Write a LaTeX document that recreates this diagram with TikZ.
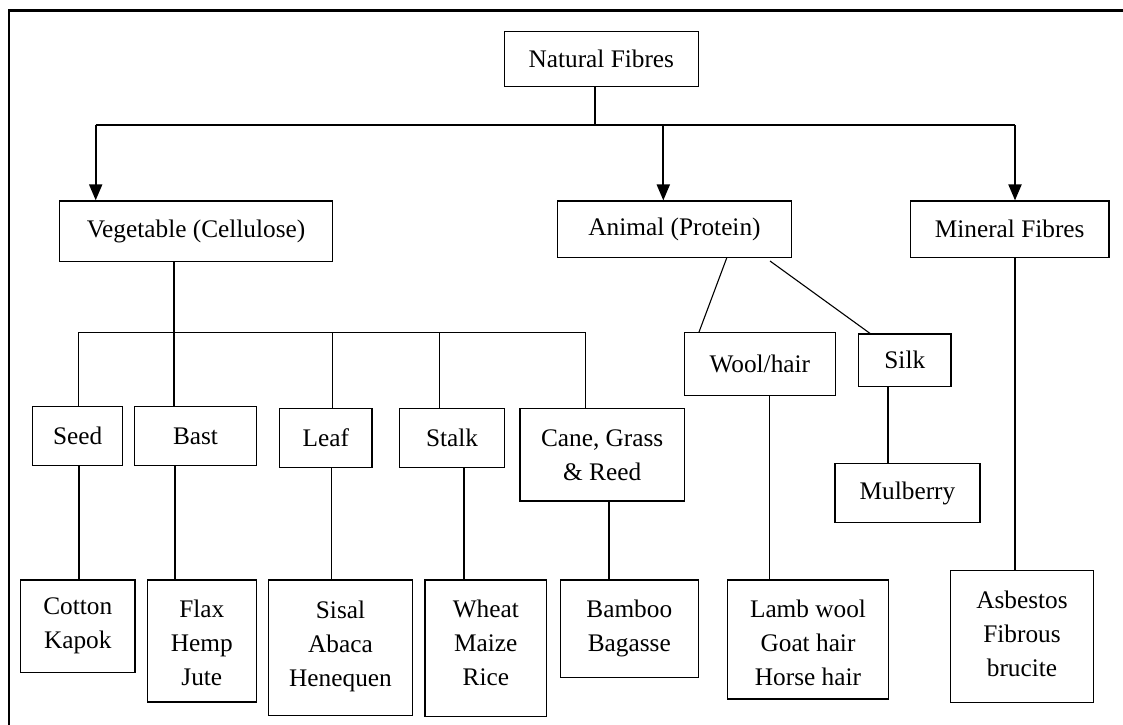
\documentclass[tikz,border=0pt]{standalone}
\usepackage{fontspec}
\setmainfont{Liberation Serif}
\usetikzlibrary{arrows.meta}
\newcommand{\dn}[1]{\rule[-#1pt]{0pt}{0pt}}
\newcommand{\up}[1]{\rule{0pt}{#1pt}}
\begin{document}
\begin{tikzpicture}[x=1pt,y=-1pt,
  box/.style={draw, line width=1.3pt, inner sep=0pt, align=center,
    font=\fontsize{25.3}{34}\selectfont, text=black},
  conn/.style={line width=1.1pt},
  arr/.style={line width=2pt, -{Triangle[width=13pt,length=16pt]}},
  frame/.style={line width=2.2pt}]
\useasboundingbox (0,0) rectangle (1123,724);
\clip (0,0) rectangle (1123,724);
% outer frame
\coordinate (fbl) at (9,730);
\coordinate (ftl) at (9,10.5);
\coordinate (ftr) at (1130,10.5);
\draw[frame] (fbl) -- (ftl) -- (ftr);
% top level
\node[box, minimum width=194pt, minimum height=55pt] (nat) at (601.3,58.8) {Natural Fibres};
\node[box, minimum width=273.4pt, minimum height=60.7pt] (veg) at (196,231.3) {Vegetable (Cellulose)};
\node[box, minimum width=234.4pt, minimum height=56.3pt] (ani) at (674.5,229.2) {Animal (Protein)};
\node[box, minimum width=198.7pt, minimum height=56.3pt] (min) at (1009.7,229.2) {Mineral Fibres};
% vegetable classes
\node[box, minimum width=90pt, minimum height=59pt] (seed) at (77.7,436.2) {Seed};
\node[box, minimum width=121.6pt, minimum height=59pt] (bast) at (195.5,436.2) {Bast};
\node[box, minimum width=92.3pt, minimum height=58.6pt] (leaf) at (325.8,438) {Leaf};
\node[box, minimum width=105.4pt, minimum height=58.6pt] (stalk) at (452,438) {Stalk};
\node[box, minimum width=164.3pt, minimum height=92.3pt] (cane) at (602.2,454.8) {Cane, Grass\\\& Reed};
% animal classes
\node[box, minimum width=151pt, minimum height=63pt] (wool) at (759.8,364.2) {Wool/hair};
\node[box, minimum width=92.3pt, minimum height=52.3pt] (silk) at (904.8,360.2) {Silk};
\node[box, minimum width=145pt, minimum height=58.6pt] (mul) at (907.5,493) {Mulberry};
% leaves
\node[box, minimum width=114.3pt, minimum height=92.7pt] (cot) at (77.8,626.3) {Cotton\\Kapok};
\node[box, minimum width=109pt, minimum height=122pt] (flax) at (201.8,641) {\up{21}Flax\\Hemp\\Jute};
\node[box, minimum width=143.6pt, minimum height=135.3pt] (sisal) at (340.5,647.7) {Sisal\\Abaca\\Henequen\dn{8}};
\node[box, minimum width=121.7pt, minimum height=136.7pt] (wheat) at (485.8,648.3) {Wheat\\Maize\\Rice\dn{11}};
\node[box, minimum width=138pt, minimum height=97.7pt] (bamboo) at (629.3,628.8) {Bamboo\\Bagasse\dn{5}};
\node[box, minimum width=160.6pt, minimum height=119pt] (lamb) at (808,639.5) {\up{25}Lamb wool\\Goat hair\\Horse hair};
\node[box, minimum width=142.6pt, minimum height=132pt] (asb) at (1022,636.3) {Asbestos\\Fibrous\\brucite\dn{6}};
% junctions
\coordinate (j0) at (595,125);
\coordinate (j1) at (174,332.3);
% natural -> three groups
\draw[conn] (595,0 |- nat.south) -- (j0);
\draw[conn] (95.7,125) -- (1015,125);
\draw[arr] (95.7,125) -- (95.7,0 |- veg.north);
\draw[arr] (663.3,125) -- (663.3,0 |- ani.north);
\draw[arr] (1015,125) -- (1015,0 |- min.north);
% vegetable tree
\draw[conn] (174,0 |- veg.south) -- (j1);
\draw[conn] (78.3,332.3) -- (585.3,332.3);
\draw[conn] (78.3,332.3) -- (78.3,0 |- seed.north);
\draw[conn] (j1) -- (174,0 |- bast.north);
\draw[conn] (332.7,332.3) -- (332.7,0 |- leaf.north);
\draw[conn] (439.3,332.3) -- (439.3,0 |- stalk.north);
\draw[conn] (585.3,332.3) -- (585.3,0 |- cane.north);
\draw[conn] (79,0 |- seed.south) -- (79,0 |- cot.north);
\draw[conn] (175,0 |- bast.south) -- (175,0 |- flax.north);
\draw[conn] (331.7,0 |- leaf.south) -- (331.7,0 |- sisal.north);
\draw[conn] (464,0 |- stalk.south) -- (464,0 |- wheat.north);
\draw[conn] (609,0 |- cane.south) -- (609,0 |- bamboo.north);
% animal tree
\draw[conn] (726.7,0 |- ani.south) -- (699,0 |- wool.north);
\draw[conn] (770,261) -- (870,0 |- silk.north);
\draw[conn] (769.3,0 |- wool.south) -- (769.3,0 |- lamb.north);
\draw[conn] (888,0 |- silk.south) -- (888,0 |- mul.north);
% mineral
\draw[conn] (1015,0 |- min.south) -- (1015,0 |- asb.north);
\end{tikzpicture}
\end{document}
